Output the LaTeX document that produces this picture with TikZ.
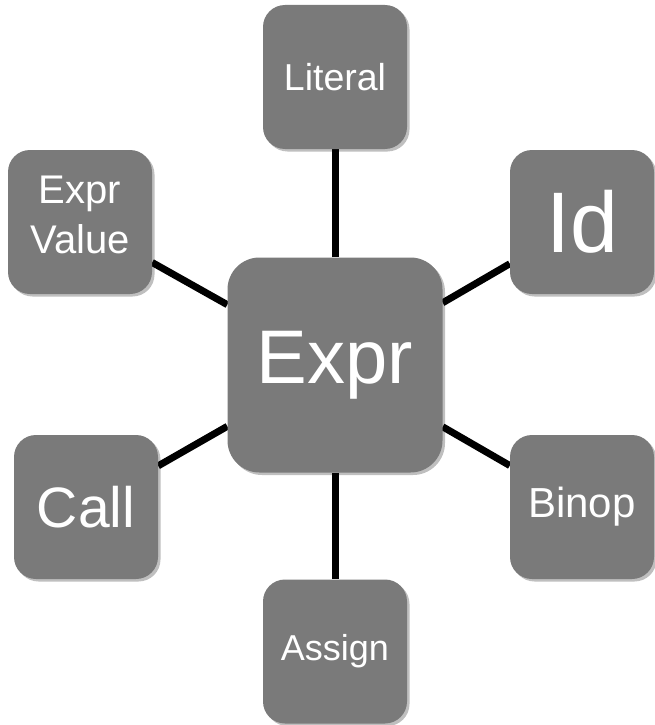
\documentclass[tikz,border=0pt]{standalone}
\usepackage{fontspec}
\setmainfont{Liberation Sans}
\definecolor{boxgray}{HTML}{7A7A7A}
\usetikzlibrary{shadows,backgrounds}
\tikzset{
  astbox/.style={fill=boxgray,text=white,rounded corners=22pt,align=center,
                 minimum width=144pt,minimum height=144pt,inner sep=0pt,
                 drop shadow={shadow xshift=2.5pt,shadow yshift=-2.5pt,opacity=0.25,fill=black}},
  hub/.style={astbox,rounded corners=32pt,minimum width=215pt,minimum height=215pt},
  link/.style={line width=7pt,black}
}
\newcommand{\fsz}[2][1.25]{\fontsize{#2pt}{#1\dimexpr#2pt\relax}\selectfont}

\begin{document}
\begin{tikzpicture}[x=1pt,y=-1pt]
    \useasboundingbox (0,0) rectangle (655,725);
    \node[hub,font=\fsz{76}]      (expr)    at (335,365)   {Expr};
    \node[astbox,font=\fsz{37.5}] (literal) at (335,77)    {Literal};
    \node[astbox,font=\fsz{40},text depth=14pt] (exval) at (80,222) {Expr\\Value};
    \node[astbox,font=\fsz{86}]   (id)      at (582,222)   {Id};
    \node[astbox,font=\fsz{57}]   (call)    at (86,507)    {Call};
    \node[astbox,font=\fsz{42}]   (binop)   at (582,507)   {Binop};
    \node[astbox,font=\fsz{36}]   (assign)  at (335,651.5) {Assign};
    \begin{scope}[on background layer]
      \draw[link] (expr) -- (literal);
      \draw[link] (expr) -- (exval);
      \draw[link] (expr) -- (id);
      \draw[link] (expr) -- (call);
      \draw[link] (expr) -- (binop);
      \draw[link] (expr) -- (assign);
    \end{scope}
\end{tikzpicture}
\end{document}
